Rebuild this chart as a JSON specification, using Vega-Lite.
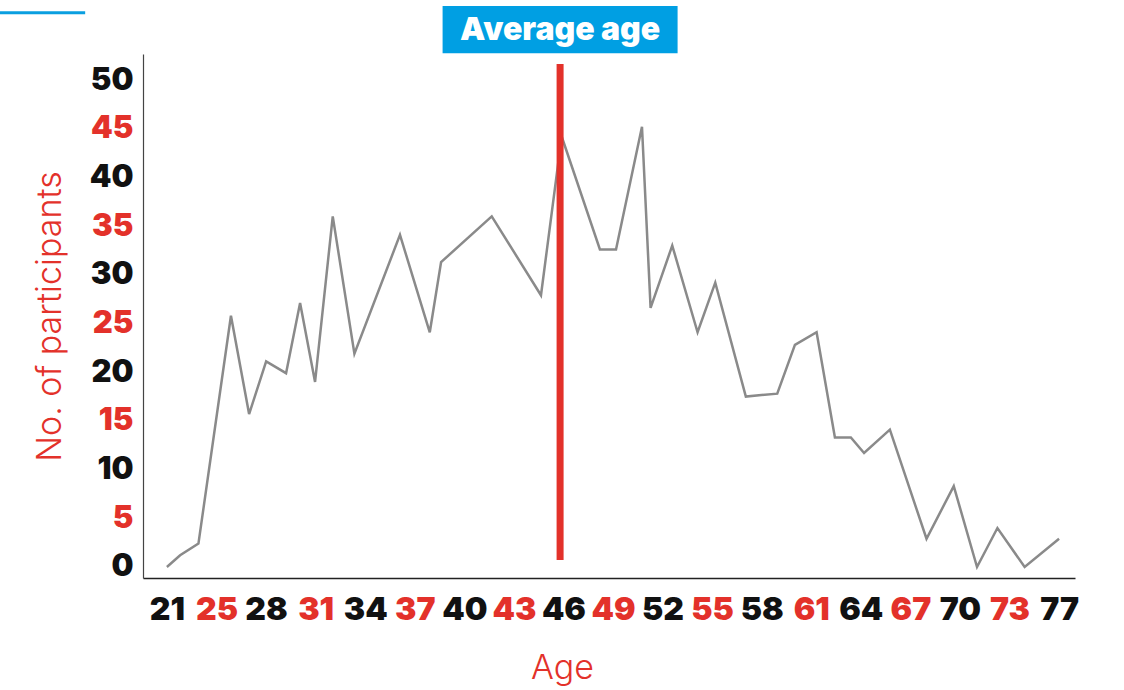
{
  "$schema": "https://vega.github.io/schema/vega-lite/v6.json",
  "width": 932,
  "height": 524,
  "autosize": {"type": "none"},
  "padding": {"left": 143, "top": 54, "right": 49, "bottom": 112},
  "background": "white",
  "config": {"view": {"stroke": null}},
  "datasets": {
    "ages": [
      {"age": 21.0, "participants": 0},
      {"age": 21.83, "participants": 1.2},
      {"age": 22.98, "participants": 2.4},
      {"age": 25.02, "participants": 25.8},
      {"age": 26.16, "participants": 15.7},
      {"age": 27.23, "participants": 21.1},
      {"age": 28.48, "participants": 19.9},
      {"age": 29.36, "participants": 27.1},
      {"age": 30.3, "participants": 19.0},
      {"age": 31.41, "participants": 36.0},
      {"age": 32.77, "participants": 21.9},
      {"age": 35.63, "participants": 34.1},
      {"age": 37.5, "participants": 24.1},
      {"age": 38.21, "participants": 31.3},
      {"age": 41.39, "participants": 36.0},
      {"age": 44.48, "participants": 27.9},
      {"age": 45.78, "participants": 44.2},
      {"age": 48.18, "participants": 32.6},
      {"age": 49.19, "participants": 32.6},
      {"age": 50.82, "participants": 45.2},
      {"age": 51.36, "participants": 26.6},
      {"age": 52.72, "participants": 33.0},
      {"age": 54.31, "participants": 24.1},
      {"age": 55.42, "participants": 29.2},
      {"age": 57.34, "participants": 17.5},
      {"age": 59.31, "participants": 17.8},
      {"age": 60.42, "participants": 22.8},
      {"age": 61.78, "participants": 24.1},
      {"age": 62.93, "participants": 13.3},
      {"age": 63.93, "participants": 13.3},
      {"age": 64.76, "participants": 11.7},
      {"age": 66.38, "participants": 14.1},
      {"age": 68.68, "participants": 2.9},
      {"age": 70.39, "participants": 8.3},
      {"age": 71.85, "participants": 0},
      {"age": 73.13, "participants": 4.0},
      {"age": 74.84, "participants": 0},
      {"age": 77.0, "participants": 2.9}
    ],
    "average": [{"avg": 45.68, "label": "Average age"}]
  },
  "layer": [
    {
      "data": {"values": [{"x": 10.5, "x2": 15.87, "y": 56.9}]},
      "mark": {"type": "rule", "color": "#0a9fe0", "strokeWidth": 3, "clip": false},
      "encoding": {
        "x": {"field": "x", "type": "quantitative"},
        "x2": {"field": "x2"},
        "y": {"field": "y", "type": "quantitative"}
      }
    },
    {
      "data": {"name": "ages"},
      "mark": {"type": "line", "color": "#8a8a8a", "strokeWidth": 2.5, "strokeJoin": "miter"},
      "encoding": {
        "x": {
          "field": "age",
          "type": "quantitative",
          "scale": {"domain": [19.5, 78], "nice": false, "zero": false, "padding": 0},
          "axis": {
            "title": "Age",
            "values": [21, 24.1111, 27.2222, 30.3333, 33.4444, 36.5556, 39.6667, 42.7778, 45.8889, 49, 52.1111, 55.2222, 58.3333, 61.4444, 64.5556, 67.6667, 70.7778, 73.8889, 77],
            "labelExpr": "['21','25','28','31','34','37','40','43','46','49','52','55','58','61','64','67','70','73','77'][round((datum.value-21)*18/56)]",
            "labelColor": {"condition": {"test": "round((datum.value-21)*18/56) % 2 == 1", "value": "#e3312a"}, "value": "#111111"},
            "labelFont": "Inter",
            "labelFontWeight": 900,
            "labelFontSize": 32,
            "labelPadding": 16,
            "labelOverlap": false,
            "labelFlush": false,
            "ticks": false,
            "grid": false,
            "domainColor": "#222222",
            "domainWidth": 1.5,
            "titleFont": "Inter",
            "titleFontWeight": 300,
            "titleFontSize": 34,
            "titleColor": "#e3312a",
            "titlePadding": 26,
            "titleX": 419
          }
        },
        "y": {
          "field": "participants",
          "type": "quantitative",
          "scale": {"domain": [-1.13, 52.67], "nice": false, "zero": false, "padding": 0},
          "axis": {
            "title": "No. of participants",
            "values": [0, 5, 10, 15, 20, 25, 30, 35, 40, 45, 50],
            "labelColor": {"condition": {"test": "datum.value % 10 == 5", "value": "#e3312a"}, "value": "#111111"},
            "labelFont": "Inter",
            "labelFontWeight": 900,
            "labelFontSize": 31,
            "labelPadding": 10,
            "ticks": false,
            "grid": false,
            "domainColor": "#444444",
            "domainWidth": 1.2,
            "titleFont": "Inter",
            "titleFontWeight": 300,
            "titleFontSize": 34,
            "titleColor": "#e3312a",
            "titlePadding": 22
          }
        }
      }
    },
    {
      "data": {"name": "average"},
      "mark": {"type": "rule", "color": "#e3312a", "strokeWidth": 7},
      "encoding": {
        "x": {"field": "avg", "type": "quantitative"},
        "y": {"datum": 0.72},
        "y2": {"datum": 51.64}
      }
    },
    {
      "data": {"name": "average"},
      "mark": {"type": "bar", "color": "#009fe3", "width": 235, "clip": false},
      "encoding": {
        "x": {"field": "avg", "type": "quantitative"},
        "y": {"datum": 57.6},
        "y2": {"datum": 52.74}
      }
    },
    {
      "data": {"name": "average"},
      "mark": {"type": "text", "color": "white", "font": "Inter", "fontWeight": 900, "fontSize": 32, "baseline": "middle", "align": "center", "clip": false},
      "encoding": {
        "x": {"field": "avg", "type": "quantitative"},
        "y": {"datum": 55.1},
        "text": {"field": "label"}
      }
    }
  ]
}
